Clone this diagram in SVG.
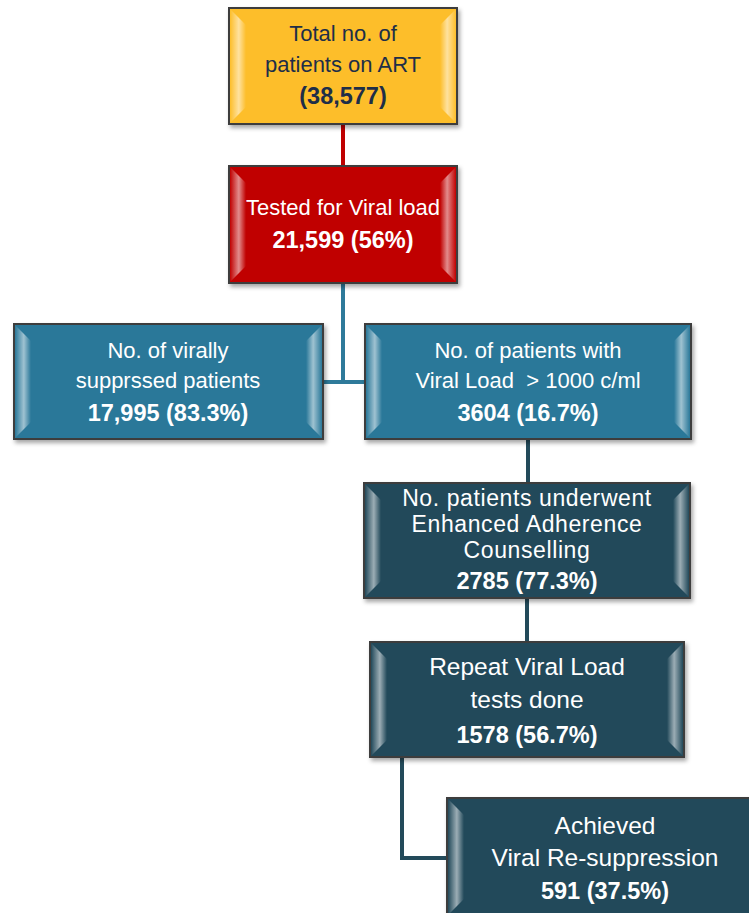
<svg xmlns="http://www.w3.org/2000/svg" width="749" height="913" viewBox="0 0 749 913">
<defs>
<filter id="sh" x="-10%" y="-10%" width="125%" height="130%">
<feDropShadow dx="2" dy="3" stdDeviation="2" flood-color="#000" flood-opacity="0.35"/>
</filter>
<linearGradient id="bevL" x1="0" y1="0" x2="1" y2="0">
<stop offset="0" stop-color="#fff" stop-opacity="0"/>
<stop offset="0.55" stop-color="#fff" stop-opacity="0.55"/>
<stop offset="1" stop-color="#fff" stop-opacity="0"/>
</linearGradient>
<linearGradient id="bevR" x1="1" y1="0" x2="0" y2="0">
<stop offset="0" stop-color="#fff" stop-opacity="0"/>
<stop offset="0.55" stop-color="#fff" stop-opacity="0.55"/>
<stop offset="1" stop-color="#fff" stop-opacity="0"/>
</linearGradient>
</defs>
<style>
.box{stroke:#3c3c3c;stroke-width:2;filter:url(#sh)}
.yel{fill:#FDBE2A}
.red{fill:#C00000}
.blu{fill:#2C7899}
.drk{fill:#234A5A}
.bl{fill:url(#bevL)}
.br{fill:url(#bevR)}
text{font-family:"Liberation Sans",Arial,sans-serif;font-size:22px;text-anchor:middle;fill:#fff}
.b{font-weight:bold;font-size:23.5px}
.big{font-size:24.5px}
.mid{font-size:23px;letter-spacing:0.6px}
.dk{fill:#1E2E48}
.ln{fill:none;stroke-width:4}
</style>
<g id="connectors">
<path class="ln" stroke="#C00000" d="M343 124V166"/>
<path class="ln" stroke="#2E7A9A" d="M343 283V382M323 382H365"/>
<path class="ln" stroke="#234A5A" d="M528 439V483M527 598V642M402 757V858H447"/>
</g>
<g id="n1">
<rect class="box yel" x="229" y="8" width="228" height="116"/>
<polygon class="bl" points="230,9 246,25 246,107 230,123"/>
<polygon class="br" points="456,9 440,25 440,107 456,123"/>
<text class="dk" x="343" y="41">Total no. of</text>
<text class="dk" x="343" y="72">patients on ART</text>
<text class="dk b" x="343" y="104">(38,577)</text>
</g>
<g id="n2">
<rect class="box red" x="229" y="166" width="228" height="117"/>
<polygon class="bl" points="230,167 246,183 246,266 230,282"/>
<polygon class="br" points="456,167 440,183 440,266 456,282"/>
<text x="343" y="215">Tested for Viral load</text>
<text class="b" x="343" y="248">21,599 (56%)</text>
</g>
<g id="n3">
<rect class="box blu" x="14" y="324" width="309" height="115"/>
<polygon class="bl" points="15,325 31,341 31,422 15,438"/>
<polygon class="br" points="322,325 306,341 306,422 322,438"/>
<text x="168" y="358">No. of virally</text>
<text x="168" y="388">supprssed patients</text>
<text class="b" x="168" y="421">17,995 (83.3%)</text>
</g>
<g id="n4">
<rect class="box blu" x="365" y="324" width="326" height="115"/>
<polygon class="bl" points="366,325 382,341 382,422 366,438"/>
<polygon class="br" points="690,325 674,341 674,422 690,438"/>
<text x="528" y="358">No. of patients with</text>
<text x="528" y="388" xml:space="preserve">Viral Load  &gt; 1000 c/ml</text>
<text class="b" x="528" y="421">3604 (16.7%)</text>
</g>
<g id="n5">
<rect class="box drk" x="364" y="483" width="326" height="115"/>
<polygon class="bl" points="365,484 381,500 381,581 365,597"/>
<polygon class="br" points="689,484 673,500 673,581 689,597"/>
<text class="mid" x="527" y="506">No. patients underwent</text>
<text class="mid" x="527" y="532">Enhanced Adherence</text>
<text class="mid" x="527" y="558">Counselling</text>
<text class="b" x="527" y="589">2785 (77.3%)</text>
</g>
<g id="n6">
<rect class="box drk" x="370" y="642" width="314" height="115"/>
<polygon class="bl" points="371,643 387,659 387,740 371,756"/>
<polygon class="br" points="683,643 667,659 667,740 683,756"/>
<text class="big" x="527" y="675">Repeat Viral Load</text>
<text class="big" x="527" y="708">tests done</text>
<text class="b" x="527" y="743">1578 (56.7%)</text>
</g>
<g id="n7">
<rect class="box drk" x="447" y="798" width="316" height="117"/>
<polygon class="bl" points="448,799 464,815 464,899 448,915"/>
<text class="big" x="605" y="834">Achieved</text>
<text class="big" x="605" y="866">Viral Re-suppression</text>
<text class="b" x="605" y="899">591 (37.5%)</text>
</g>
</svg>
